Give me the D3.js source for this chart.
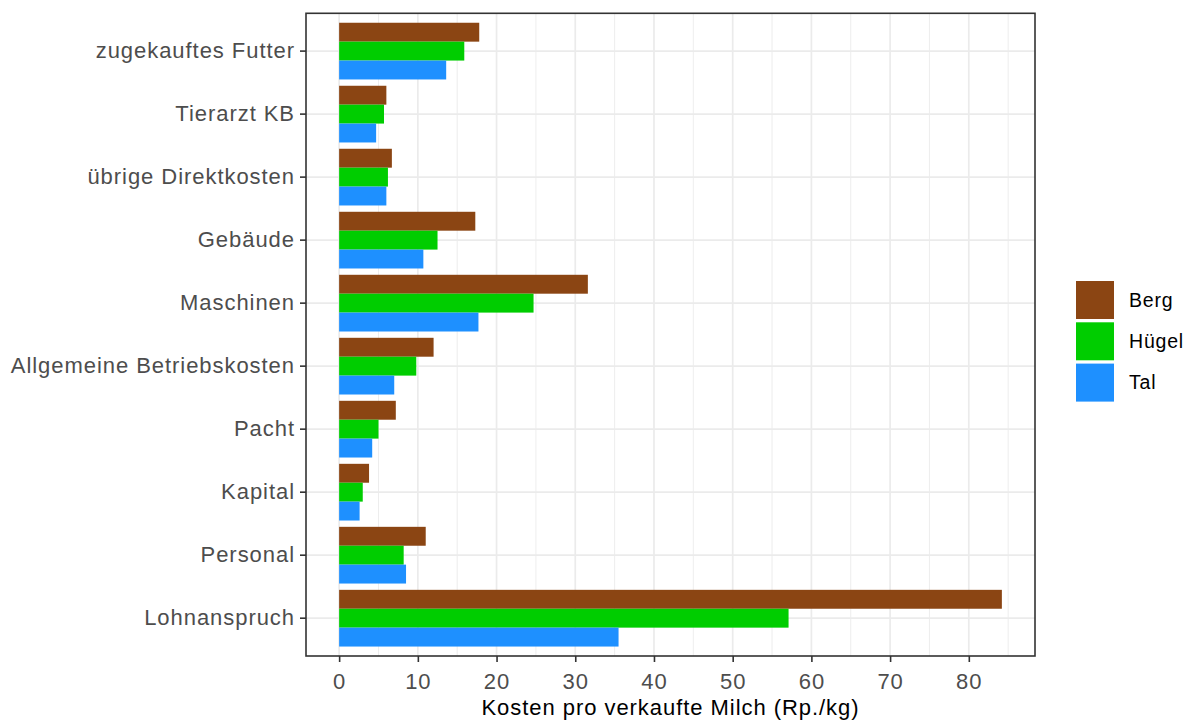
<!DOCTYPE html>
<html>
<head>
<meta charset="utf-8">
<script src="https://cdn.jsdelivr.net/npm/d3@7"></script>
<style>
  body { margin: 0; background: #fff; }
  svg text { font-family: "Liberation Sans", Arial, sans-serif; }
</style>
</head>
<body>
<div id="dataviz"><svg id="chart-svg" width="1194" height="722"></svg></div>
<script>
//----------------
// Data
//----------------

const categories = [
  "zugekauftes Futter", "Tierarzt KB", "übrige Direktkosten", "Gebäude",
  "Maschinen", "Allgemeine Betriebskosten", "Pacht", "Kapital",
  "Personal", "Lohnanspruch"
];
const regions = ["Berg", "Hügel", "Tal"];

const berg  = [17.8, 6.0, 6.7, 17.3, 31.6, 12.0, 7.2, 3.8, 11.0, 84.2];
const huegel = [15.9, 5.7, 6.2, 12.5, 24.7, 9.8, 5.0, 3.0, 8.2, 57.1];
const tal   = [13.6, 4.7, 6.0, 10.7, 17.7, 7.0, 4.2, 2.6, 8.5, 35.5];

const xTicks = [0, 10, 20, 30, 40, 50, 60, 70, 80];
const xTitle = "Kosten pro verkaufte Milch (Rp./kg)";

//----------------
// Costants
//----------------

const panel = {left: 306, top: 13.3, right: 1035, bottom: 656};
const colors = ["#8B4513", "#00CD00", "#1E90FF"];
const gridColor = "#EBEBEB";
const darkColor = "#333333";

//----------------
// Draw
//----------------

function drawChart() {
  var svg = d3.select("#chart-svg");
  var series = [berg, huegel, tal];

  var maxVal = d3.max(series, s => d3.max(s));
  var x = d3.scaleLinear()
    .domain([-0.05 * maxVal, maxVal * 1.05])
    .range([panel.left, panel.right]);

  // discrete axis, ggplot style expansion (0.6 units from edge to first centre)
  var y = d3.scaleBand()
    .domain(categories)
    .range([panel.top, panel.bottom])
    .paddingInner(0)
    .paddingOuter(0.1);

  var step = y.step();
  var yInner = d3.scaleBand()
    .domain(regions)
    .range([0, step * 0.9]);

  var colorMap = d3.scaleOrdinal().domain(regions).range(colors);

  // grid
  var grid = svg.append("g").attr("id", "grid");
  var minor = d3.range(5, 90, 10).filter(v => x(v) < panel.right);
  grid.selectAll(".minor")
    .data(minor).enter().append("line")
      .attr("x1", d => x(d)).attr("x2", d => x(d))
      .attr("y1", panel.top).attr("y2", panel.bottom)
      .attr("stroke", gridColor).attr("stroke-width", 0.9);
  grid.selectAll(".major-x")
    .data(xTicks).enter().append("line")
      .attr("x1", d => x(d)).attr("x2", d => x(d))
      .attr("y1", panel.top).attr("y2", panel.bottom)
      .attr("stroke", gridColor).attr("stroke-width", 1.7);
  grid.selectAll(".major-y")
    .data(categories).enter().append("line")
      .attr("x1", panel.left).attr("x2", panel.right)
      .attr("y1", d => y(d) + step / 2).attr("y2", d => y(d) + step / 2)
      .attr("stroke", gridColor).attr("stroke-width", 1.7);

  // bars
  var bars = svg.append("g").attr("id", "bars");
  categories.forEach(function(cat, i) {
    var g = bars.append("g")
      .attr("transform", "translate(0," + (y(cat) + step * 0.05) + ")");
    g.selectAll("rect")
      .data(regions.map((r, j) => ({region: r, value: series[j][i]})))
      .enter().append("rect")
        .attr("x", x(0))
        .attr("y", d => yInner(d.region))
        .attr("width", d => x(d.value) - x(0))
        .attr("height", yInner.bandwidth())
        .attr("fill", d => colorMap(d.region));
  });

  // panel border
  svg.append("rect")
    .attr("x", panel.left).attr("y", panel.top)
    .attr("width", panel.right - panel.left)
    .attr("height", panel.bottom - panel.top)
    .attr("fill", "none")
    .attr("stroke", darkColor).attr("stroke-width", 1.6);

  // x axis
  var xAxis = svg.append("g")
    .attr("transform", "translate(0," + panel.bottom + ")")
    .call(d3.axisBottom(x).tickValues(xTicks).tickSize(6).tickPadding(11));
  xAxis.select(".domain").remove();
  xAxis.selectAll(".tick line").attr("stroke", darkColor).attr("stroke-width", 1.6);
  xAxis.selectAll(".tick text")
    .attr("fill", "#4D4D4D")
    .style("font-size", "22px")
    .style("letter-spacing", "0.95px");

  // y axis
  var yAxis = svg.append("g")
    .attr("transform", "translate(" + panel.left + ",0)")
    .call(d3.axisLeft(y).tickSize(6).tickPadding(5));
  yAxis.select(".domain").remove();
  yAxis.selectAll(".tick line").attr("stroke", darkColor).attr("stroke-width", 1.6);
  yAxis.selectAll(".tick text")
    .attr("fill", "#4D4D4D")
    .style("font-size", "22px")
    .style("letter-spacing", "0.95px");

  // x title
  svg.append("text")
    .attr("x", (panel.left + panel.right) / 2)
    .attr("y", 715)
    .attr("text-anchor", "middle")
    .attr("fill", "#000")
    .style("font-size", "22px")
    .style("letter-spacing", "0.95px")
    .text(xTitle);

  // legend
  var legend = svg.append("g")
    .attr("id", "legend")
    .attr("transform", "translate(1076, 281)");
  legend.selectAll("rect")
    .data(regions).enter().append("rect")
      .attr("x", 0)
      .attr("y", (_, i) => i * 41.3)
      .attr("width", 38).attr("height", 38)
      .attr("fill", d => colorMap(d));
  legend.selectAll("text")
    .data(regions).enter().append("text")
      .attr("x", 53)
      .attr("y", (_, i) => i * 41.3 + 19)
      .attr("dy", "0.35em")
      .attr("fill", "#000")
      .style("font-size", "19.5px")
      .style("letter-spacing", "0.8px")
      .text(d => d);
}

drawChart();
</script>
</body>
</html>
